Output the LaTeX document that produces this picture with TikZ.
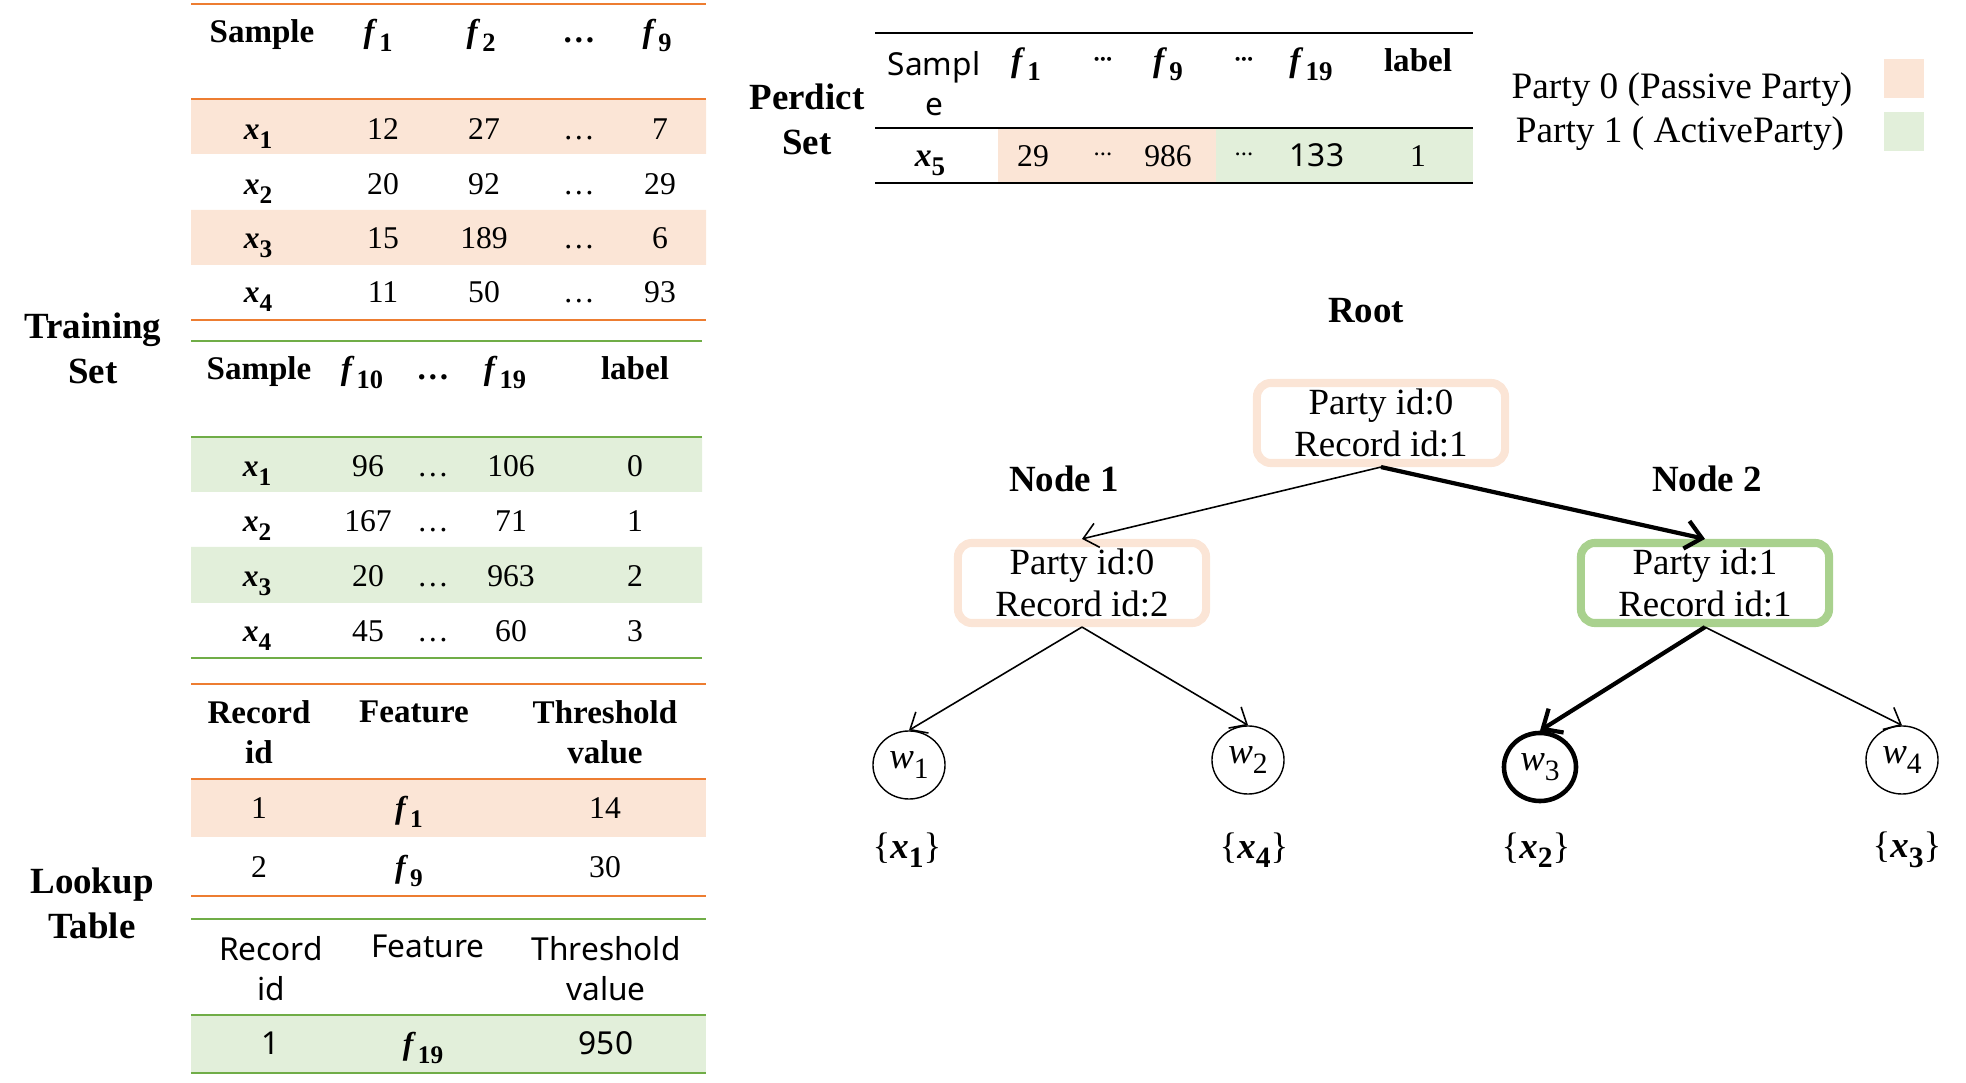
\documentclass[tikz,border=0pt]{standalone}
\usepackage{fontspec}
\setmainfont{Liberation Serif}
\newfontfamily\sansfnt{Noto Sans}
\usetikzlibrary{shapes.geometric, arrows.meta}

\definecolor{lineorange}{HTML}{ED7D31}
\definecolor{fillorange}{HTML}{FBE5D6}
\definecolor{linegreen}{HTML}{70AD47}
\definecolor{fillgreen}{HTML}{E2EFDA}
\definecolor{boxgreen}{HTML}{A9D18E}

\newcommand{\sub}[1]{\raisebox{-0.26em}{\scalebox{0.8}{#1}}}
\newcommand{\bx}[1]{\textbf{\textit{x}\sub{#1}}}
\newcommand{\bfe}[1]{\textbf{\textit{f}\kern0.06em\sub{#1}}}
\newcommand{\iw}[1]{\textit{w}\sub{#1}}
\newcommand{\mdots}{\raisebox{0.15em}{\fontsize{7}{7}\selectfont
	\textperiodcentered\kern-0.08em\textperiodcentered\kern-0.08em\textperiodcentered}}

\begin{document}
\begin{tikzpicture}[x=0.01cm, y=-0.01cm,
		every node/.style={inner sep=0, font=\fontsize{9}{11.4}\selectfont},
		cell/.style={anchor=base},
		head/.style={font=\fontsize{9.4}{11.4}\selectfont\bfseries, align=center},
		sanshead/.style={font=\fontsize{9}{11.4}\selectfont\sansfnt, align=center},
		sanscell/.style={anchor=base, font=\fontsize{9}{11}\selectfont\sansfnt},
		title/.style={font=\fontsize{10.5}{12.8}\selectfont\bfseries, align=center},
		treebox/.style={draw, rounded corners=4pt, line width=2.3pt, minimum width=2.48cm,
			minimum height=0.8cm, align=center, font=\fontsize{10.5}{12}\selectfont},
		leaf/.style={ellipse, draw, minimum width=0.72cm, minimum height=0.68cm,
			font=\fontsize{10.5}{12}\selectfont},
		rule/.style={line width=0.75pt},
		thin arrow/.style={-{Straight Barb[length=4pt, width=7pt]}, line width=0.45pt},
		thick arrow/.style={-{Straight Barb[length=4.5pt, width=8pt]}, line width=1.2pt},
	]
	\useasboundingbox (0,0) rectangle (1966,1083);

	% training set, party 0
	\fill[fillorange] (191,99) rectangle (706,154) (191,210) rectangle (706,265);
	\draw[rule, lineorange] (191,4) -- (706,4) (191,99) -- (706,99) (191,320) -- (706,320);
	\node[head, cell] (ta-h0) at (262,43) {Sample};
	\node[head, cell] (ta-h1) at (378,43) {\bfe{1}};
	\node[head, cell] (ta-h2) at (481,43) {\bfe{2}};
	\node[head, cell] (ta-h3) at (579,43) {\dots};
	\node[head, cell] (ta-h4) at (657,43) {\bfe{9}};
	\foreach \a/\b/\c/\y [count=\i] in {12/27/7/140, 20/92/29/195, 15/189/6/249, 11/50/93/303} {
		\node[cell] (ta-\i-0) at (258,\y) {\bx{\i}};
		\node[cell] (ta-\i-1) at (383,\y) {\a};
		\node[cell] (ta-\i-2) at (484,\y) {\b};
		\node[cell] (ta-\i-3) at (579,\y) {\dots};
		\node[cell] (ta-\i-4) at (660,\y) {\c};
	}

	% training set, party 1
	\fill[fillgreen] (191,437) rectangle (702,492) (191,547) rectangle (702,603);
	\draw[rule, linegreen] (191,341) -- (702,341) (191,437) -- (702,437) (191,658) -- (702,658);
	\node[head, cell] (tb-h0) at (259,380) {Sample};
	\node[head, cell] (tb-h1) at (362,380) {\bfe{10}};
	\node[head, cell] (tb-h2) at (433,380) {\dots};
	\node[head, cell] (tb-h3) at (505,380) {\bfe{19}};
	\node[head, cell] (tb-h4) at (635,380) {label};
	\foreach \a/\b/\c/\y [count=\i] in {96/106/0/477, 167/71/1/532, 20/963/2/587, 45/60/3/642} {
		\node[cell] (tb-\i-0) at (257,\y) {\bx{\i}};
		\node[cell] (tb-\i-1) at (368,\y) {\a};
		\node[cell] (tb-\i-2) at (433,\y) {\dots};
		\node[cell] (tb-\i-3) at (511,\y) {\b};
		\node[cell] (tb-\i-4) at (635,\y) {\c};
	}
	\node[title] (train) at (93,348) {Training\\Set};

	% lookup tables
	\fill[fillorange] (191,779) rectangle (706,837);
	\draw[rule, lineorange] (191,684) -- (706,684) (191,779) -- (706,779) (191,896) -- (706,896);
	\node[head] (la-h0) at (259,732) {Record\\id};
	\node[head, cell] (la-h1) at (414,723) {Feature};
	\node[head] (la-h2) at (605,732) {Threshold\\value};
	\node[cell] (la-1-0) at (259,819) {1};
	\node[cell] (la-1-1) at (409,819) {\bfe{1}};
	\node[cell] (la-1-2) at (605,819) {14};
	\node[cell] (la-2-0) at (259,878) {2};
	\node[cell] (la-2-1) at (409,878) {\bfe{9}};
	\node[cell] (la-2-2) at (605,878) {30};

	\fill[fillgreen] (191,1015) rectangle (706,1073);
	\draw[rule, linegreen] (191,919) -- (706,919) (191,1015) -- (706,1015) (191,1073) -- (706,1073);
	\node[sanshead] (lb-h0) at (271,969) {Record\\id};
	\node[sanshead, cell] (lb-h1) at (428,958) {Feature};
	\node[sanshead] (lb-h2) at (606,969) {Threshold\\value};
	\node[sanscell] (lb-1-0) at (271,1055) {1};
	\node[cell] (lb-1-1) at (423,1055) {\bfe{19}};
	\node[sanscell] (lb-1-2) at (606,1055) {950};
	\node[title] (lookup) at (92,903) {Lookup\\Table};

	% predict set
	\fill[fillorange] (998,128) rectangle (1216,183);
	\fill[fillgreen] (1216,128) rectangle (1473,183);
	\draw[line width=0.6pt] (875,33) -- (1473,33) (875,128) -- (1473,128) (875,183) -- (1473,183);
	\node[sanshead] (pr-h0) at (934,84) {Sampl\\e};
	\node[cell, font=\fontsize{9.6}{11.4}\selectfont] (pr-h1) at (1026,72) {\bfe{1}};
	\node[cell, font=\fontsize{9}{11.4}\selectfont\bfseries] (pr-h2) at (1103,72) {\mdots};
	\node[cell, font=\fontsize{9.6}{11.4}\selectfont] (pr-h3) at (1168,72) {\bfe{9}};
	\node[cell, font=\fontsize{9}{11.4}\selectfont\bfseries] (pr-h4) at (1244,72) {\mdots};
	\node[cell, font=\fontsize{9.6}{11.4}\selectfont] (pr-h5) at (1311,72) {\bfe{19}};
	\node[head, cell] (pr-h6) at (1418,72) {label};
	\node[cell, font=\fontsize{9.6}{11.4}\selectfont] (pr-1-0) at (930,167) {\bx{5}};
	\node[cell] (pr-1-1) at (1033,167) {29};
	\node[cell] (pr-1-2) at (1103,167) {\mdots};
	\node[cell] (pr-1-3) at (1168,167) {986};
	\node[cell] (pr-1-4) at (1244,167) {\mdots};
	\node[sanscell] (pr-1-5) at (1317,167) {133};
	\node[cell] (pr-1-6) at (1418,167) {1};
	\node[title] (predict) at (807,119) {Perdict\\Set};

	% legend
	\fill[fillorange] (1884,59) rectangle (1924,98);
	\fill[fillgreen] (1884,112) rectangle (1924,151);
	\node[cell, font=\fontsize{10.6}{12}\selectfont] (party0) at (1682,99) {Party 0 (Passive Party)};
	\node[cell, font=\fontsize{10.6}{12}\selectfont] (party1) at (1680,143) {Party 1 ( ActiveParty)};

	% tree
	\node[treebox, fillorange] (root) at (1381,423) {\color{black}Party id:0\\\color{black}Record id:1};
	\node[treebox, fillorange] (node1) at (1082,583) {\color{black}Party id:0\\\color{black}Record id:2};
	\node[treebox, boxgreen] (node2) at (1705,583) {\color{black}Party id:1\\\color{black}Record id:1};
	\node[title, cell] (rootlab) at (1366,323) {Root};
	\node[title, cell] (node1lab) at (1064,492) {Node 1};
	\node[title, cell] (node2lab) at (1707,492) {Node 2};

	\node[leaf] (w1) at (909,765) {\iw{1}};
	\node[leaf] (w2) at (1248,760) {\iw{2}};
	\node[leaf, line width=1.3pt] (w3) at (1540,767) {\iw{3}};
	\node[leaf] (w4) at (1902,760) {\iw{4}};

	\draw[thin arrow] (root.south) -- (node1.north);
	\draw[thick arrow] (root.south) -- (node2.north);
	\draw[thin arrow] (node1.south) -- (w1.north);
	\draw[thin arrow] (node1.south) -- (w2.north);
	\draw[thick arrow] (node2.south) -- (w3.north);
	\draw[thin arrow] (node2.south) -- (w4.north);

	\node[font=\fontsize{10.5}{12}\selectfont] (set1) at (907,850) {\{\bx{1}\}};
	\node[font=\fontsize{10.5}{12}\selectfont] (set4) at (1254,850) {\{\bx{4}\}};
	\node[font=\fontsize{10.5}{12}\selectfont] (set2) at (1536,850) {\{\bx{2}\}};
	\node[font=\fontsize{10.5}{12}\selectfont] (set3) at (1907,850) {\{\bx{3}\}};
\end{tikzpicture}
\end{document}
